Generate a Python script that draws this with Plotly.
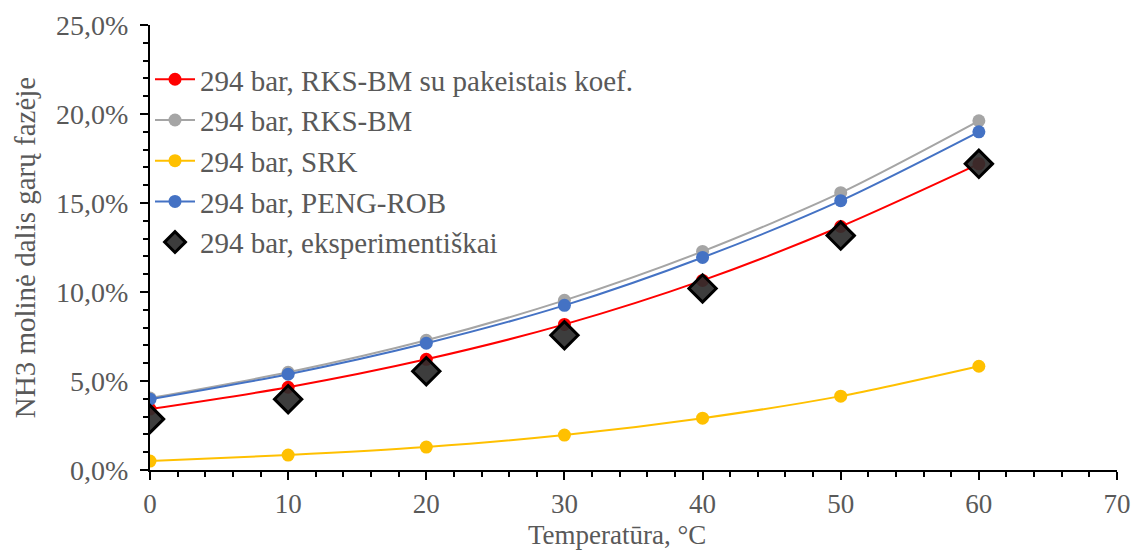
import plotly.graph_objects as go

# Temperature points, °C
temperature = [0, 10, 20, 30, 40, 50, 60]

# NH3 molar fraction in the vapour phase at 294 bar (fractions)
rks_bm_modified = [0.0342, 0.0465, 0.0622, 0.0818, 0.1065, 0.1368, 0.1720]
rks_bm = [0.0404, 0.0549, 0.0729, 0.0953, 0.1228, 0.1558, 0.1962]
srk = [0.0050, 0.0084, 0.0129, 0.0196, 0.0291, 0.0415, 0.0583]
peng_rob = [0.0398, 0.0538, 0.0712, 0.0925, 0.1194, 0.1513, 0.1900]
experiment = [0.0286, 0.0398, 0.0555, 0.0757, 0.1020, 0.1317, 0.1720]

series_names = [
    "294 bar, RKS-BM su pakeistais koef.",
    "294 bar, RKS-BM",
    "294 bar, SRK",
    "294 bar, PENG-ROB",
    "294 bar, eksperimentiškai",
]

FONT = "Liberation Serif, Times New Roman, serif"
TEXT = "#595959"

fig = go.Figure()

model_series = [
    (series_names[0], rks_bm_modified, "#FF0000"),
    (series_names[1], rks_bm, "#A5A5A5"),
    (series_names[2], srk, "#FFC000"),
    (series_names[3], peng_rob, "#4472C4"),
]
for name, values, color in model_series:
    fig.add_trace(go.Scatter(
        x=temperature, y=values, name=name, mode="lines+markers",
        line=dict(color=color, width=2, shape="spline", smoothing=0.8),
        marker=dict(symbol="circle", size=13, color=color),
    ))

fig.add_trace(go.Scatter(
    x=temperature, y=experiment, name=series_names[4], mode="markers",
    marker=dict(symbol="diamond", size=21, color="rgba(45,45,45,0.92)",
                line=dict(color="#000000", width=3)),
))

fig.update_layout(
    width=1132, height=551,
    margin=dict(l=150, r=15, t=25, b=81),
    paper_bgcolor="white", plot_bgcolor="white",
    separators=", ",
    font=dict(family=FONT, size=28, color=TEXT),
    showlegend=True,
    legend=dict(x=0.0, y=0.935, xanchor="left", yanchor="top",
                bgcolor="rgba(0,0,0,0)", font=dict(family=FONT, size=29, color=TEXT),
                tracegroupgap=0, itemwidth=40),
)

# x-axis title placed as an annotation just under the tick labels
fig.add_annotation(
    text="Temperatūra, °C", xref="paper", yref="paper", x=0.483, y=0,
    xanchor="center", yanchor="bottom", yshift=-81, showarrow=False,
    font=dict(family=FONT, size=27, color=TEXT), borderpad=0,
)

fig.update_xaxes(
    range=[0, 70], tickvals=[0, 10, 20, 30, 40, 50, 60, 70],
    showline=True, linecolor="black", linewidth=2,
    ticks="outside", ticklen=8, tickwidth=2, tickcolor="black",
    minor=dict(dtick=2, ticks="outside", ticklen=5, tickwidth=1.5, tickcolor="black"),
    showgrid=False, zeroline=False, ticklabelstandoff=1, automargin=False,
    tickfont=dict(family=FONT, size=27, color=TEXT),
)

fig.update_yaxes(
    range=[0, 0.25], dtick=0.05, tickformat=".1%",
    showline=True, linecolor="black", linewidth=2,
    ticks="outside", ticklen=8, tickwidth=2, tickcolor="black",
    minor=dict(dtick=0.01, ticks="outside", ticklen=5, tickwidth=1.5, tickcolor="black"),
    showgrid=False, zeroline=False, ticklabelstandoff=6, automargin=False,
    tickfont=dict(family=FONT, size=28, color=TEXT),
    title=dict(text="NH3 molinė dalis garų fazėje", font=dict(family=FONT, size=29, color=TEXT), standoff=12),
)

fig.write_html("out.html")
